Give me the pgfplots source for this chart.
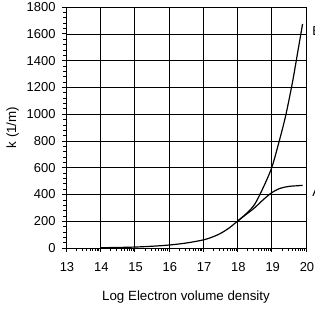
\documentclass[border=0pt]{standalone}
\usepackage{fontspec}
\setmainfont{Liberation Sans}
\usepackage{pgfplots}
\pgfplotsset{compat=1.18}
\begin{document}
\fontsize{13}{15}\selectfont
\begin{tikzpicture}[x=1bp,y=1bp]
\begin{axis}[
  name=ax,
  at={(0,0)}, anchor=south west,
  scale only axis,
  width=240bp, height=241bp,
  xmin=13, xmax=20, ymin=0, ymax=1800,
  xtick={13,14,15,16,17,18,19,20},
  ytick={0,200,400,600,800,1000,1200,1400,1600,1800},
  minor xtick={13.301,13.477,13.602,13.699,13.778,13.845,13.903,13.954,
               14.301,14.477,14.602,14.699,14.778,14.845,14.903,14.954,
               15.301,15.477,15.602,15.699,15.778,15.845,15.903,15.954,
               16.301,16.477,16.602,16.699,16.778,16.845,16.903,16.954,
               17.301,17.477,17.602,17.699,17.778,17.845,17.903,17.954,
               18.301,18.477,18.602,18.699,18.778,18.845,18.903,18.954,
               19.301,19.477,19.602,19.699,19.778,19.845,19.903,19.954},
  minor y tick num=4,
  tick align=outside,
  xtick pos=bottom, ytick pos=left,
  major tick length=4bp, minor tick length=2.5bp,
  grid=major,
  major grid style={black, line width=0.5pt},
  axis line style={line width=0.9pt},
  every tick/.style={black, line width=0.6pt},
  /pgf/number format/assume math mode=true,
  /pgf/number format/1000 sep={},
  ticklabel style={font=\fontsize{13}{15}\selectfont},
  label style={font=\fontsize{13.4}{15}\selectfont},
  xticklabel style={yshift=-6bp, xshift=1bp},
  yticklabel style={xshift=-2bp},
  xlabel={Log Electron volume density},
  ylabel={k (1/m)},
  xlabel style={yshift=-10bp},
  ylabel style={yshift=-1bp},
  clip=false,
]
\addplot[black, line width=1.2pt, smooth] coordinates {
 (14,2) (14.5,4) (15,7) (15.5,13) (16,22) (16.5,37) (17,60) (17.25,80) (17.5,108) (17.75,148) (18,200)
 (18.25,255) (18.5,325) (18.75,450) (19,600) (19.2,780) (19.4,980) (19.6,1230) (19.75,1450) (19.9,1673)
};
\addplot[black, line width=1.2pt, smooth] coordinates {
 (18,200) (18.25,250) (18.5,300) (18.75,360) (19.0,413) (19.25,446) (19.5,460) (19.75,465) (19.9,468)
};
\node[anchor=west, inner sep=0pt] at (axis cs:20.18,1620) {B};
\node[anchor=west, inner sep=0pt] at (axis cs:20.18,418) {A};
\end{axis}
\pgfresetboundingbox
\useasboundingbox (-66,-79) rectangle (249,248);
\end{tikzpicture}
\end{document}
